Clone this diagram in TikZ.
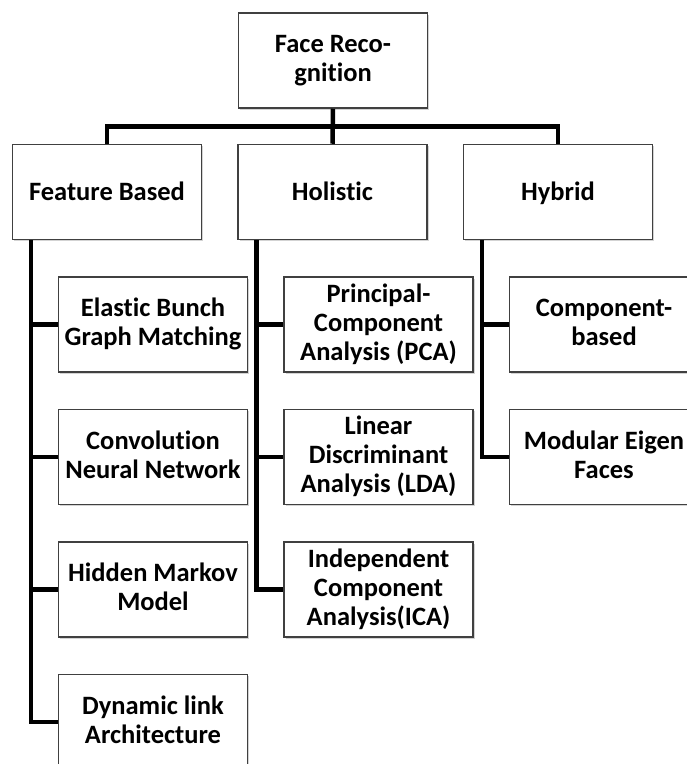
\documentclass[tikz,border=0pt]{standalone}
\usepackage{fontspec}
\setmainfont{Carlito}[RawFeature={-liga;-clig;-dlig}]
\usetikzlibrary{positioning,shadows,calc}
\newcommand{\boxstrut}{\rule[-5pt]{0pt}{27pt}}
\tikzset{
    treenode/.style = {align=center, inner sep=2pt, fill=white, draw=black!75, line width=1.5pt,
        font=\bfseries\fontsize{26.5}{29}\selectfont, minimum width=189pt, minimum height=95pt,
        execute at begin node=\boxstrut, execute at end node=\boxstrut,
        drop shadow={shadow xshift=1.5pt, shadow yshift=-1.5pt, opacity=0.35}},
    % Root Node
    node_top/.style = {treenode},
    % Approach Node
    node_cat/.style = {treenode},
    % Method Node
    node_met/.style = {treenode},
    % Tree Line
    line_tree/.style = {line width=4.5pt, black}
}

\begin{document}
\begin{tikzpicture}[x=1pt, y=-1pt]
    \useasboundingbox (0,0) rectangle (687,764);
    \clip (0,0) rectangle (687,764);

    \node[node_top] (face) at (333,60.5) {Face Reco-\\gnition};
    \node[node_cat] (hol) at (332.5,192) {Holistic};
    \node[node_cat, left=35pt of hol] (feat) {Feature Based};
    \node[node_cat, right=35pt of hol] (hyb) {Hybrid};

    % feature based
    \node[node_met, anchor=north west] (ebgm) at ([xshift=46pt,yshift=-36pt]feat.south west) {Elastic Bunch\\Graph Matching};
    \node[node_met, below=36pt of ebgm] (cnn) {Convolution\\Neural Network};
    \node[node_met, below=36pt of cnn] (hmm) {Hidden Markov\\Model};
    \node[node_met, below=36pt of hmm] (dla) {Dynamic link\\Architecture};

    % holistic
    \node[node_met, anchor=north west] (pca) at ([xshift=46pt,yshift=-36pt]hol.south west) {Principal-\\Component\\Analysis (PCA)};
    \node[node_met, below=36pt of pca] (lda) {Linear\\Discriminant\\Analysis (LDA)};
    \node[node_met, below=36pt of lda] (ica) {Independent\\Component\\Analysis(ICA)};

    % hybrid
    \node[node_met, anchor=north west] (comp) at ([xshift=46pt,yshift=-36pt]hyb.south west) {Component-\\based};
    \node[node_met, below=36pt of comp] (meig) {Modular Eigen\\Faces};

    \coordinate (bus) at ($(face.south)!.5!(hol.north)$);
    \draw[line_tree] (face.south) -- (hol.north);
    \draw[line_tree] (feat.north) |- (bus) -| (hyb.north);

    \foreach \m in {ebgm,cnn,hmm,dla}
        \draw[line_tree] ([xshift=19pt]feat.south west) |- (\m.west);
    \foreach \m in {pca,lda,ica}
        \draw[line_tree] ([xshift=19pt]hol.south west) |- (\m.west);
    \foreach \m in {comp,meig}
        \draw[line_tree] ([xshift=19pt]hyb.south west) |- (\m.west);
\end{tikzpicture}
\end{document}
